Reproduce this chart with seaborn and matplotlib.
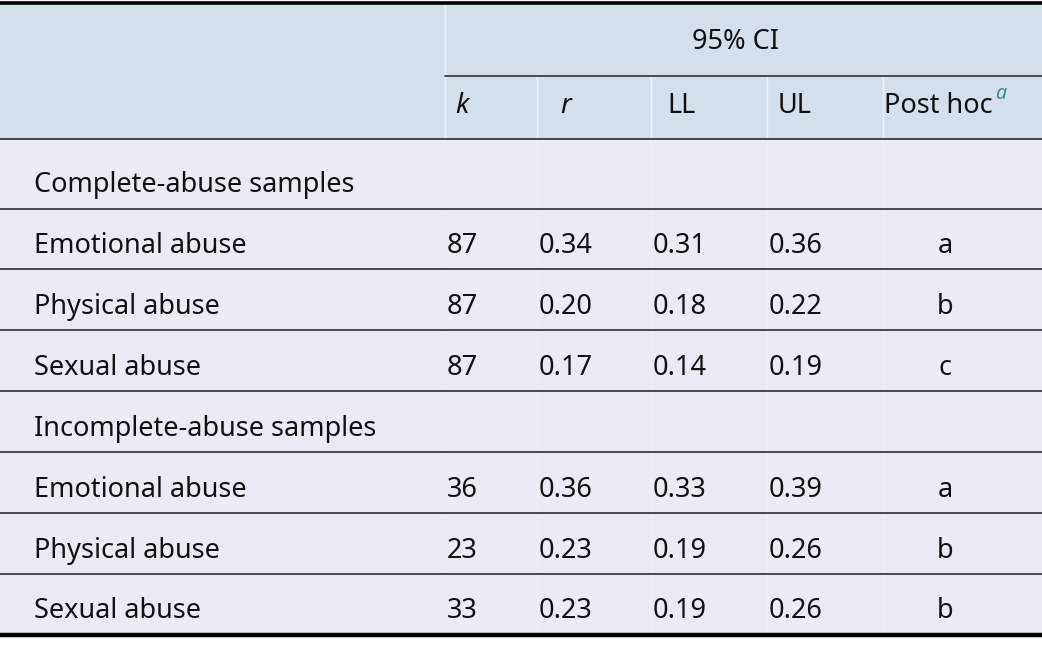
import seaborn as sns
import matplotlib.pyplot as plt

# table content
row_labels = ["Complete-abuse samples", "Emotional abuse", "Physical abuse", "Sexual abuse",
              "Incomplete-abuse samples", "Emotional abuse", "Physical abuse", "Sexual abuse"]
is_group = [True, False, False, False, True, False, False, False]
k_vals = [None, 87, 87, 87, None, 36, 23, 33]
r_vals = [None, 0.34, 0.20, 0.17, None, 0.36, 0.23, 0.23]
ll_vals = [None, 0.31, 0.18, 0.14, None, 0.33, 0.19, 0.19]
ul_vals = [None, 0.36, 0.22, 0.19, None, 0.39, 0.26, 0.26]
post_hoc = [None, "a", "b", "c", None, "a", "b", "b"]
col_headers = ["k", "r", "LL", "UL"]
span_header = "95% CI"

sns.set_theme(style="white")
plt.rcParams["font.family"] = ["Noto Sans", "DejaVu Sans"]

W, H = 1042, 646
fig = plt.figure(figsize=(W / 100, H / 100), dpi=100)
ax = fig.add_axes([0, 0, 1, 1])
ax.set_xlim(0, W)
ax.set_ylim(H, 0)
ax.axis("off")

head_bg = "#d5dfec"
body_bg = "#e9ecf4"
txt = "#111111"
fs = 19.5

top, head_mid, head_bot, bottom = 3, 76, 138.5, 635
ax.axhspan(top, head_bot, color=head_bg, lw=0)
ax.axhspan(head_bot, bottom, color=body_bg, lw=0)

# row boundaries in the body
bounds = [head_bot, 208.5]
for i in range(len(row_labels) - 1):
    bounds.append(208.5 + (i + 1) * (bottom - 208.5) / (len(row_labels) - 1))

# faint column separators
col_edges = [445, 537, 651, 767, 883]
for x in col_edges:
    ax.plot([x, x], [head_mid if x != 445 else top, bottom], color="#edf0f6", lw=1, zorder=1)

# horizontal rules
ax.plot([0, W], [top, top], color="black", lw=2.6, zorder=3, solid_capstyle="butt")
ax.plot([445, W], [head_mid, head_mid], color="#3c3c3c", lw=1.3, zorder=3)
ax.plot([0, W], [head_bot, head_bot], color="#3c3c3c", lw=1.3, zorder=3)
for y in bounds[1:-1]:
    ax.plot([0, W], [y, y], color="#3c3c3c", lw=1.3, zorder=3)
ax.plot([0, W], [bottom, bottom], color="black", lw=3.2, zorder=3, solid_capstyle="butt")

# headers
ax.text(736, 49, span_header, ha="center", va="baseline", fontsize=fs, color=txt)
head_x = [455, 560, 667, 778]
for x, h in zip(head_x, col_headers):
    style = "italic" if h in ("k", "r") else "normal"
    ax.text(x, 113, h, ha="left", va="baseline", fontsize=fs, color=txt, fontstyle=style)
ph = ax.text(884, 113, "Post hoc", ha="left", va="baseline", fontsize=fs, color=txt)
ax.annotate("a", xy=(1.0, 0.58), xycoords=ph, xytext=(1.5, 0), textcoords="offset points",
            ha="left", va="bottom", fontsize=14, color="#3d8a8c", fontstyle="italic")

# body
val_x = [447, 539, 653, 769]
for i, lab in enumerate(row_labels):
    base = bounds[i + 1] - 16.5
    ax.text(34, base, lab, ha="left", va="baseline", fontsize=fs, color=txt)
    if is_group[i]:
        continue
    cells = [str(k_vals[i]), f"{r_vals[i]:.2f}", f"{ll_vals[i]:.2f}", f"{ul_vals[i]:.2f}"]
    for x, c in zip(val_x, cells):
        ax.text(x, base, c, ha="left", va="baseline", fontsize=fs, color=txt)
    ax.text(945, base, post_hoc[i], ha="center", va="baseline", fontsize=fs, color=txt)

fig.savefig("out.png", dpi=100)
